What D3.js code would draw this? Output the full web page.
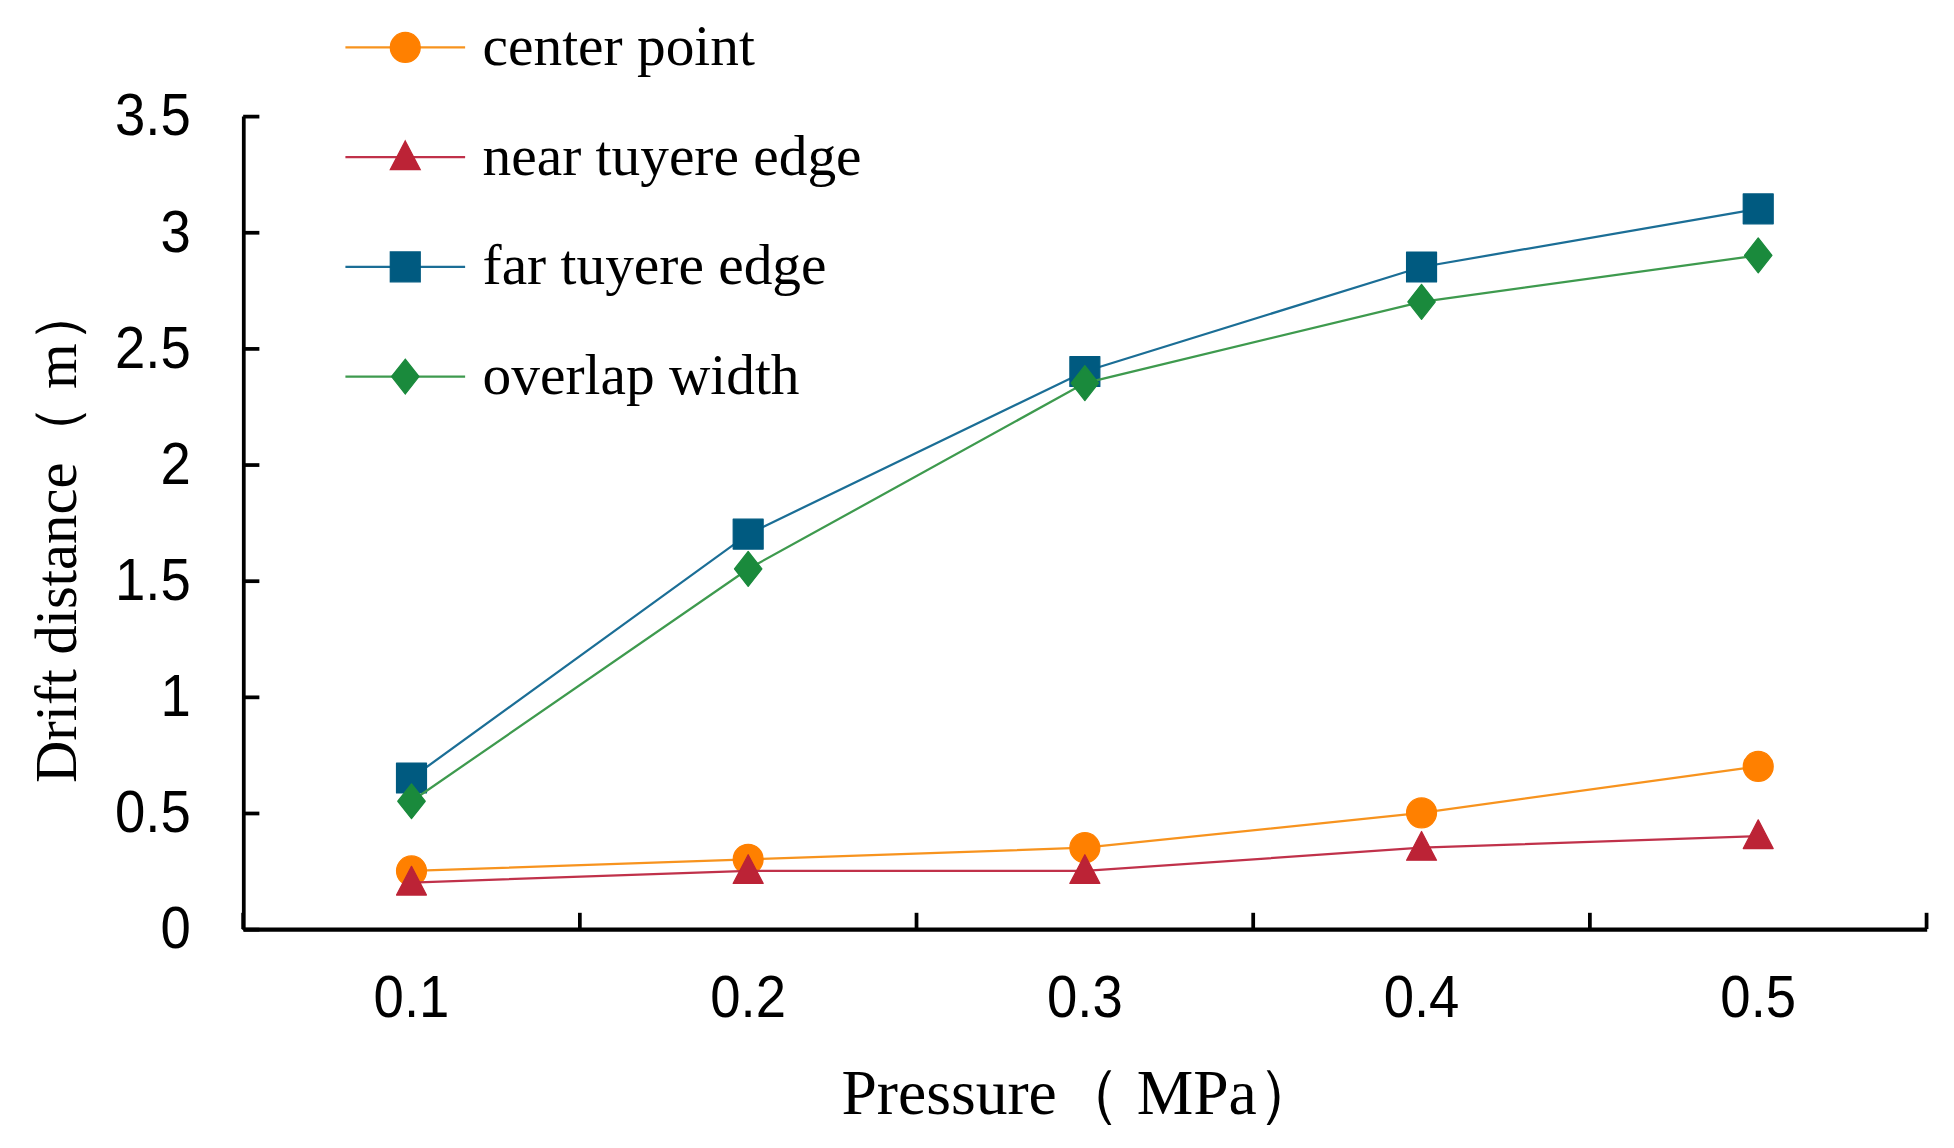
<!DOCTYPE html>
<html>
<head>
<meta charset="utf-8">
<script src="https://cdn.jsdelivr.net/npm/d3@7"></script>
<style>
  body { margin: 0; background: #fff; }
</style>
</head>
<body>
<div id="chart"></div>
<script>
// values
let pressures = ["0.1", "0.2", "0.3", "0.4", "0.5"];
let centerPoint = [0.25, 0.3, 0.35, 0.5, 0.7];
let nearEdge = [0.2, 0.25, 0.25, 0.35, 0.4];
let farEdge = [0.65, 1.7, 2.4, 2.85, 3.1];
let overlapWidth = [0.55, 1.55, 2.35, 2.7, 2.9];
let yTicks = [0, 0.5, 1, 1.5, 2, 2.5, 3, 3.5];

let seriesNames = ["center point", "near tuyere edge", "far tuyere edge", "overlap width"];
let seriesValues = [centerPoint, nearEdge, farEdge, overlapWidth];
let lineColors = ["#F7931E", "#C0314A", "#1B6E96", "#3E9A4E"];
let markColors = ["#FF8000", "#BC2336", "#005A80", "#1A8A3C"];
let markTypes = ["circle", "triangle", "square", "diamond"];

// drawing in the picture's own units, stretched to the window
let W = 1567, H = 920.6;
let svg = d3.select('#chart').append('svg')
    .attr('width', 1954)
    .attr('height', 1148)
    .attr('viewBox', '0 0 ' + W + ' ' + H)

let pLeft = 195, pRight = 1545, pTop = 93, pBottom = 745;
let squeeze = 0.93; // tick labels are a bit narrow in the original

let x = d3.scaleBand()
    .domain(pressures)
    .range([pLeft, pRight])
    .padding(0)

let y = d3.scaleLinear()
    .domain([0, 3.5])
    .range([pBottom, pTop])

// y axis, ticks pointing inward
let yAxis = svg.append('g')
    .attr('transform', 'translate(' + pLeft + ',0)')
    .call(d3.axisLeft(y).tickValues(yTicks).tickFormat(d3.format('')).tickSizeInner(-13).tickSizeOuter(0))
yAxis.select('.domain').attr('stroke-width', 3).attr('stroke', '#000')
yAxis.selectAll('.tick line').attr('stroke-width', 3)
yAxis.selectAll('text')
    .attr('font-family', 'Liberation Sans, Arial, sans-serif')
    .attr('font-size', 47)
    .attr('fill', '#000')
    .attr('x', -42 / squeeze)
    .attr('transform', 'scale(' + squeeze + ',1)')

// x axis: labels in band centres, ticks on band edges
let xAxis = svg.append('g')
    .attr('transform', 'translate(0,' + pBottom + ')')
    .call(d3.axisBottom(x).tickSize(0).tickPadding(37))
xAxis.select('.domain').attr('stroke-width', 3.5).attr('stroke', '#000')
xAxis.selectAll('text')
    .attr('font-family', 'Liberation Sans, Arial, sans-serif')
    .attr('font-size', 47)
    .attr('fill', '#000')
    .attr('transform', 'scale(' + squeeze + ',1)')

let edges = pressures.map(function (d) { return x(d); }).concat([pRight]);
svg.selectAll('.xedge')
    .data(edges)
    .enter()
    .append('line')
    .attr('class', 'xedge')
    .attr('x1', function (d) { return d; })
    .attr('x2', function (d) { return d; })
    .attr('y1', pBottom)
    .attr('y2', pBottom - 13)
    .attr('stroke', '#000')
    .attr('stroke-width', 3)

// axis titles
svg.append('text')
    .attr('x', 867)
    .attr('y', 893)
    .attr('text-anchor', 'middle')
    .attr('font-family', 'Liberation Serif, Times New Roman, serif')
    .attr('font-size', 51)
    .text('Pressure（ MPa）')

svg.append('text')
    .attr('transform', 'translate(61,428) rotate(-90)')
    .attr('text-anchor', 'middle')
    .attr('font-family', 'Liberation Serif, Times New Roman, serif')
    .attr('font-size', 47)
    .text('Drift distance（ m）')

function markerPath(type) {
    if (type === 'circle') return d3.symbol().type(d3.symbolCircle).size(Math.PI * 12 * 12)();
    if (type === 'triangle') return 'M0,-13L12,10L-12,10Z';
    if (type === 'square') return 'M-12,-12L12,-12L12,12L-12,12Z';
    return 'M0,-14L11,0L0,14L-11,0Z';
}

let line = d3.line()
    .x(function (d, i) { return x(pressures[i]) + x.bandwidth() / 2; })
    .y(function (d) { return y(d); })

seriesValues.forEach(function (vals, s) {
    svg.append('path')
        .datum(vals)
        .attr('d', line)
        .attr('fill', 'none')
        .attr('stroke', lineColors[s])
        .attr('stroke-width', 1.8)

    svg.selectAll('.mark' + s)
        .data(vals)
        .enter()
        .append('path')
        .attr('class', 'mark' + s)
        .attr('transform', function (d, i) {
            return 'translate(' + (x(pressures[i]) + x.bandwidth() / 2) + ',' + y(d) + ')';
        })
        .attr('d', markerPath(markTypes[s]))
        .attr('fill', markColors[s])
        .attr('stroke', markColors[s])
        .attr('stroke-linejoin', 'round')
        .attr('stroke-width', 1)
})

// legend
let legend = svg.selectAll('.legend')
    .data(seriesNames)
    .enter()
    .append('g')
    .attr('class', 'legend')
    .attr('transform', function (d, i) { return 'translate(0,' + (38 + i * 88) + ')'; })

legend.append('line')
    .attr('x1', 277)
    .attr('x2', 373)
    .attr('stroke', function (d, i) { return lineColors[i]; })
    .attr('stroke-width', 1.8)

legend.append('path')
    .attr('transform', 'translate(325,0)')
    .attr('d', function (d, i) { return markerPath(markTypes[i]); })
    .attr('fill', function (d, i) { return markColors[i]; })
    .attr('stroke', function (d, i) { return markColors[i]; })
    .attr('stroke-width', 1)

legend.append('text')
    .attr('x', 387)
    .attr('y', 14)
    .attr('font-family', 'Liberation Serif, Times New Roman, serif')
    .attr('font-size', 46)
    .text(function (d) { return d; })
</script>
</body>
</html>
